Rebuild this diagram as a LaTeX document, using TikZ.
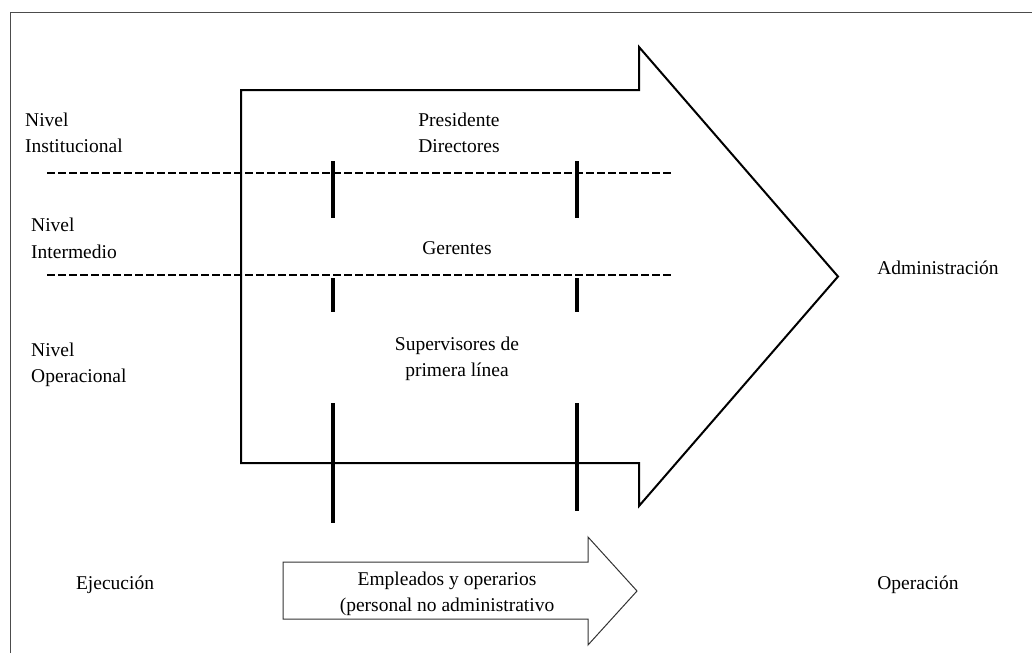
\documentclass[tikz,border=0pt]{standalone}
\usepackage{fontspec}
\setmainfont{Liberation Serif}

\begin{document}
\begin{tikzpicture}[x=1pt,y=-1pt,
        txt/.style={font=\fontsize{19.5}{26.5}\selectfont, inner sep=0pt, align=center},
        level/.style={txt, align=left, anchor=west},
        bar/.style={line width=4pt},
        sep/.style={dash pattern=on 7.5pt off 3.5pt, line width=2.2pt}]
        \useasboundingbox (0,0) rectangle (1032,653);
        % frame
        \draw[black!70, line width=1pt] (10,653) -- (10,12) -- (1032,12);

        % big arrow
        \draw[line width=2pt] (241,90) -- (639,90) -- (639,47) -- (838,276.5)
            -- (639,506) -- (639,463) -- (241,463) -- cycle;
        % small arrow
        \draw[black!80, line width=1pt] (283,562) -- (588,562) -- (588,537) -- (637,591)
            -- (588,645) -- (588,619) -- (283,619) -- cycle;

        % level separators
        \draw[sep] (47,173) -- (672,173);
        \draw[sep] (47,275) -- (672,275);
        \draw[bar] (333,161) -- (333,218);
        \draw[bar] (577,161) -- (577,218);
        \draw[bar] (333,278) -- (333,312);
        \draw[bar] (577,278) -- (577,312);
        \draw[bar] (333,403) -- (333,523);
        \draw[bar] (577,403) -- (577,511);

        % nodes
        \node[level] (inst) at (25,133) {Nivel\\Institucional};
        \node[level] (inter) at (31,238.5) {Nivel\\Intermedio};
        \node[level] (oper) at (31,365) {Nivel\\Operacional};
        \node[txt] (pres) at (459,133) {Presidente\\Directores};
        \node[txt] (ger) at (457,248) {Gerentes};
        \node[txt] (sup) at (457,359) {Supervisores de\\primera línea};
        \node[txt] (adm) at (938,268) {Administración};
        \node[txt] (ejec) at (115,585) {Ejecución};
        \node[txt] (opr) at (918,585) {Operación};
        \node[txt] (empl) at (447,594) {Empleados y operarios\\(personal no administrativo};
\end{tikzpicture}
\end{document}
